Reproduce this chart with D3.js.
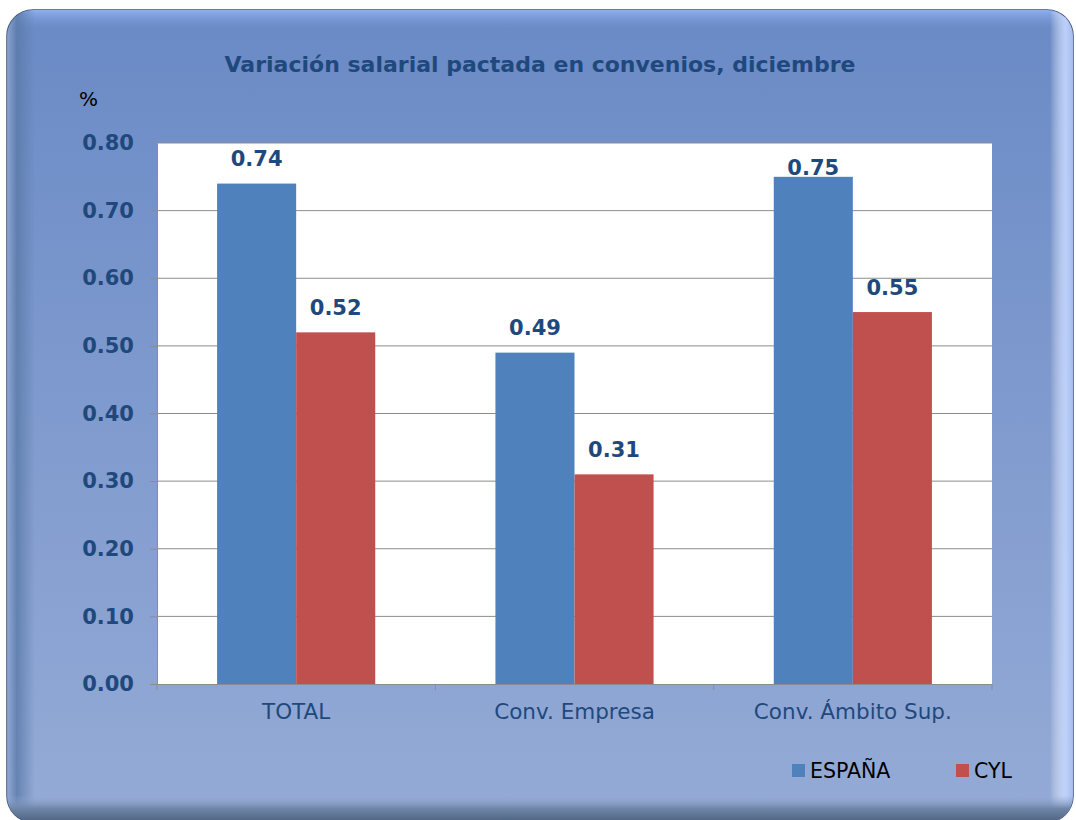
<!DOCTYPE html>
<html><head><meta charset="utf-8">
<script src="https://cdn.jsdelivr.net/npm/d3@7"></script>
<style>
html,body{margin:0;padding:0;background:#fff;}
svg{display:block;}
</style></head>
<body>
<svg id="chart" width="1076" height="820"></svg>
<script>
const categories = ["TOTAL", "Conv. Empresa", "Conv. Ámbito Sup."];
const seriesNames = ["ESPAÑA", "CYL"];
const espana = [0.74, 0.49, 0.75];
const cyl = [0.52, 0.31, 0.55];
const yTicks = [0, 0.1, 0.2, 0.3, 0.4, 0.5, 0.6, 0.7, 0.8];
const colors = ["#4f81bd", "#c0504d"];

const FONT = "'DejaVu Sans', sans-serif";
const svg = d3.select("#chart");
const defs = svg.append("defs");

const bg = defs.append("linearGradient").attr("id","bg").attr("x1",0).attr("y1",0).attr("x2",0).attr("y2",1);
bg.append("stop").attr("offset","0%").attr("stop-color","#6a8ac6");
bg.append("stop").attr("offset","100%").attr("stop-color","#95abd6");

const leftEdge = defs.append("linearGradient").attr("id","le").attr("x1",0).attr("y1",0).attr("x2",1).attr("y2",0);
leftEdge.append("stop").attr("offset","0%").attr("stop-color","#93a9d6");
leftEdge.append("stop").attr("offset","35%").attr("stop-color","#5a7aa8");
leftEdge.append("stop").attr("offset","100%").attr("stop-color","#5a7aa8").attr("stop-opacity",0);

const rightEdge = defs.append("linearGradient").attr("id","re").attr("x1",0).attr("y1",0).attr("x2",1).attr("y2",0);
rightEdge.append("stop").attr("offset","0%").attr("stop-color","#ffffff").attr("stop-opacity",0);
rightEdge.append("stop").attr("offset","60%").attr("stop-color","#c4d6ff").attr("stop-opacity",0.9);
rightEdge.append("stop").attr("offset","100%").attr("stop-color","#9ab4e6");

const topEdge = defs.append("linearGradient").attr("id","te").attr("x1",0).attr("y1",0).attr("x2",0).attr("y2",1);
topEdge.append("stop").attr("offset","0%").attr("stop-color","#8fb0f0");
topEdge.append("stop").attr("offset","100%").attr("stop-color","#6a8ac6").attr("stop-opacity",0);

const botEdge = defs.append("linearGradient").attr("id","be").attr("x1",0).attr("y1",0).attr("x2",0).attr("y2",1);
botEdge.append("stop").attr("offset","0%").attr("stop-color","#95abd6").attr("stop-opacity",0);
botEdge.append("stop").attr("offset","50%").attr("stop-color","#6f86a8");
botEdge.append("stop").attr("offset","100%").attr("stop-color","#4d6280");

defs.append("clipPath").attr("id","frameClip").append("rect")
  .attr("x",7).attr("y",10).attr("width",1066).attr("height",812).attr("rx",26);

// frame
svg.append("rect").attr("x",7).attr("y",10).attr("width",1066).attr("height",812).attr("rx",26)
  .attr("fill","url(#bg)").attr("stroke","#3d5172").attr("stroke-width",1.5);
const edges = svg.append("g").attr("clip-path","url(#frameClip)");
edges.append("rect").attr("x",7).attr("y",10).attr("width",1066).attr("height",22).attr("fill","url(#te)");
edges.append("rect").attr("x",7).attr("y",10).attr("width",28).attr("height",812).attr("fill","url(#le)").attr("opacity",0.8);
edges.append("rect").attr("x",1050).attr("y",10).attr("width",26).attr("height",812).attr("fill","url(#re)");
edges.append("rect").attr("x",7).attr("y",795).attr("width",1066).attr("height",27).attr("fill","url(#be)");

// plot
const plot = {left:157, right:992, top:143, bottom:684};
const x0 = d3.scaleBand().domain(categories).range([plot.left, plot.right]).paddingInner(0).paddingOuter(0);
const x1 = d3.scaleBand().domain(seriesNames).range([0, x0.bandwidth()]).paddingInner(0).paddingOuter(0.76);
const y = d3.scaleLinear().domain([0, 0.8]).range([plot.bottom, plot.top]);

svg.append("rect").attr("x",plot.left).attr("y",plot.top)
  .attr("width",plot.right-plot.left).attr("height",plot.bottom-plot.top).attr("fill","#ffffff");

// gridlines
svg.append("g").selectAll("line").data(yTicks.filter(d=>d>0)).join("line")
  .attr("x1",plot.left).attr("x2",plot.right)
  .attr("y1",d=>y(d)).attr("y2",d=>y(d))
  .attr("stroke","#8c8c8c").attr("stroke-width",1);

// y axis
const yAxis = svg.append("g").attr("transform",`translate(${plot.left},0)`)
  .call(d3.axisLeft(y).tickValues(yTicks).tickFormat(d3.format(".2f")).tickSize(7).tickPadding(16));
yAxis.select(".domain").attr("stroke","#8c8c8c");
yAxis.selectAll(".tick line").attr("stroke","#8c8c8c");
yAxis.selectAll("text").attr("fill","#1f497d").attr("font-family",FONT).attr("font-weight","bold").attr("font-size",21);

// x axis
const xAxis = svg.append("g").attr("transform",`translate(0,${plot.bottom})`)
  .call(d3.axisBottom(x0).tickSize(0).tickPadding(20));
xAxis.select(".domain").attr("stroke","#8c8c8c");
xAxis.selectAll("text").attr("fill","#1f497d").attr("font-family",FONT).attr("font-size",21.5);
const bounds = [plot.left, ...categories.map(c=>x0(c)+x0.bandwidth())];
xAxis.append("g").selectAll("line").data(bounds).join("line")
  .attr("x1",d=>d).attr("x2",d=>d).attr("y1",0).attr("y2",6).attr("stroke","#8c8c8c");

// bars
const data = categories.map((c,i)=>({cat:c, vals:[espana[i], cyl[i]]}));
const groups = svg.append("g").selectAll("g").data(data).join("g")
  .attr("transform",d=>`translate(${x0(d.cat)},0)`);
groups.selectAll("rect").data(d=>d.vals.map((v,j)=>({v, s:seriesNames[j], j}))).join("rect")
  .attr("x",d=>x1(d.s)).attr("width",x1.bandwidth())
  .attr("y",d=>y(d.v)).attr("height",d=>plot.bottom-y(d.v))
  .attr("fill",d=>colors[d.j]);
groups.selectAll("text").data(d=>d.vals.map((v,j)=>({v, s:seriesNames[j], j}))).join("text")
  .attr("x",d=>x1(d.s)+x1.bandwidth()/2)
  .attr("y",d=>{ const b = y(d.v) - 17.5; return b < plot.top + 20 ? plot.top + 32 : b; })
  .attr("text-anchor","middle")
  .attr("fill","#1f497d").attr("font-family",FONT).attr("font-weight","bold").attr("font-size",21)
  .text(d=>d3.format(".2f")(d.v));

// title
svg.append("text").attr("x",540).attr("y",72).attr("text-anchor","middle")
  .attr("fill","#1f497d").attr("font-family",FONT).attr("font-weight","bold").attr("font-size",22)
  .text("Variación salarial pactada en convenios, diciembre");

// unit
svg.append("text").attr("x",79).attr("y",106)
  .attr("fill","#000").attr("font-family",FONT).attr("font-size",20).text("%");

// legend
const legendX = [792, 956];
const lg = svg.append("g").selectAll("g").data(seriesNames).join("g")
  .attr("transform",(d,i)=>`translate(${legendX[i]},764)`);
lg.append("rect").attr("width",13).attr("height",13).attr("fill",(d,i)=>colors[i]);
lg.append("text").attr("x",18).attr("y",14).attr("fill","#000")
  .attr("font-family",FONT).attr("font-size",20.5).text(d=>d);
</script>
</body></html>
